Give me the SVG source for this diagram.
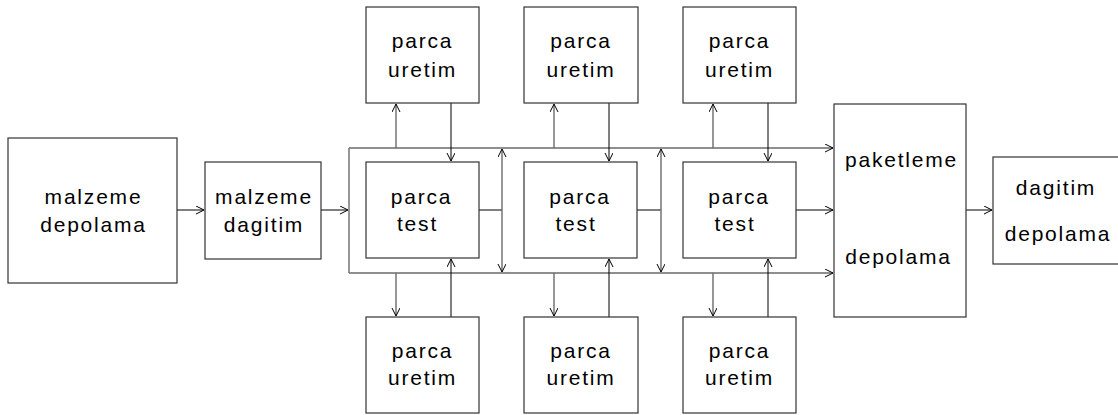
<svg xmlns="http://www.w3.org/2000/svg" width="1118" height="415" viewBox="0 0 1118 415">
  <style>
    .box { fill: #fff; stroke: #333; stroke-width: 1.2; }
    .lbl { font-family: "Liberation Sans", Arial, sans-serif; font-size: 21px; letter-spacing: 1.8px; fill: #000; text-anchor: middle; }
    .lnk { fill: none; stroke: #000; stroke-width: 1; }
    .bus { fill: none; stroke: #6a6a6a; stroke-width: 1.4; }
  </style>
  <defs>
    <marker id="ah" markerUnits="userSpaceOnUse" markerWidth="10" markerHeight="10" refX="8" refY="4" orient="auto-start-reverse">
      <path d="M0,0 L8,4 L0,8" fill="none" stroke="#000" stroke-width="1"/>
    </marker>
  </defs>
  <rect width="1118" height="415" fill="#fff"/>

  <!-- connectors -->
  <g id="connectors">
    <line class="lnk" x1="177" y1="210" x2="204" y2="210" marker-end="url(#ah)"/>
    <line class="lnk" x1="321" y1="210" x2="348" y2="210" marker-end="url(#ah)"/>
    <!-- distribution frame around the test stations -->
    <line class="bus" x1="349" y1="148" x2="833" y2="148" marker-end="url(#ah)"/>
    <line class="bus" x1="349" y1="148" x2="349" y2="273"/>
    <line class="bus" x1="349" y1="273" x2="833" y2="273" marker-end="url(#ah)"/>
    <!-- test outputs -->
    <line class="lnk" x1="479" y1="210" x2="502" y2="210"/>
    <line class="lnk" x1="637" y1="210" x2="661" y2="210"/>
    <line class="lnk" x1="796" y1="210" x2="833" y2="210" marker-end="url(#ah)"/>
    <!-- vertical transfer links -->
    <line class="bus" x1="502" y1="149" x2="502" y2="272" marker-start="url(#ah)" marker-end="url(#ah)"/>
    <line class="bus" x1="661" y1="149" x2="661" y2="272" marker-start="url(#ah)" marker-end="url(#ah)"/>
    <!-- column 1 -->
    <line class="bus" x1="396" y1="148" x2="396" y2="104" marker-end="url(#ah)"/>
    <line class="lnk" x1="451" y1="103" x2="451" y2="161" marker-end="url(#ah)"/>
    <line class="bus" x1="396" y1="273" x2="396" y2="316" marker-end="url(#ah)"/>
    <line class="lnk" x1="451" y1="317" x2="451" y2="259" marker-end="url(#ah)"/>
    <!-- column 2 -->
    <line class="bus" x1="554" y1="148" x2="554" y2="104" marker-end="url(#ah)"/>
    <line class="lnk" x1="609" y1="103" x2="609" y2="161" marker-end="url(#ah)"/>
    <line class="bus" x1="554" y1="273" x2="554" y2="316" marker-end="url(#ah)"/>
    <line class="lnk" x1="609" y1="317" x2="609" y2="259" marker-end="url(#ah)"/>
    <!-- column 3 -->
    <line class="bus" x1="713" y1="148" x2="713" y2="104" marker-end="url(#ah)"/>
    <line class="lnk" x1="768" y1="103" x2="768" y2="161" marker-end="url(#ah)"/>
    <line class="bus" x1="713" y1="273" x2="713" y2="316" marker-end="url(#ah)"/>
    <line class="lnk" x1="768" y1="317" x2="768" y2="259" marker-end="url(#ah)"/>
    <!-- packaging to dispatch -->
    <line class="lnk" x1="966" y1="210" x2="992" y2="210" marker-end="url(#ah)"/>
  </g>

  <g id="malzeme-depolama">
    <rect class="box" x="8" y="138" width="169" height="145"/>
    <text class="lbl" x="93.5" y="204">malzeme</text>
    <text class="lbl" x="93.5" y="232">depolama</text>
  </g>
  <g id="malzeme-dagitim">
    <rect class="box" x="205" y="162" width="116" height="97"/>
    <text class="lbl" x="264" y="204">malzeme</text>
    <text class="lbl" x="264" y="232">dagitim</text>
  </g>

  <g id="parca-test-1">
    <rect class="box" x="366" y="162" width="113" height="96"/>
    <text class="lbl" x="421.5" y="204">parca</text>
    <text class="lbl" x="417.5" y="231">test</text>
  </g>
  <g id="parca-test-2">
    <rect class="box" x="524" y="162" width="113" height="96"/>
    <text class="lbl" x="580" y="204">parca</text>
    <text class="lbl" x="576" y="231">test</text>
  </g>
  <g id="parca-test-3">
    <rect class="box" x="683" y="162" width="113" height="96"/>
    <text class="lbl" x="739" y="204">parca</text>
    <text class="lbl" x="735" y="231">test</text>
  </g>

  <g id="parca-uretim-top-1">
    <rect class="box" x="366" y="7" width="113" height="96"/>
    <text class="lbl" x="422.5" y="48">parca</text>
    <text class="lbl" x="422.5" y="77">uretim</text>
  </g>
  <g id="parca-uretim-top-2">
    <rect class="box" x="524" y="7" width="114" height="96"/>
    <text class="lbl" x="581" y="48">parca</text>
    <text class="lbl" x="581" y="77">uretim</text>
  </g>
  <g id="parca-uretim-top-3">
    <rect class="box" x="683" y="7" width="113" height="96"/>
    <text class="lbl" x="739.5" y="48">parca</text>
    <text class="lbl" x="739.5" y="77">uretim</text>
  </g>

  <g id="parca-uretim-bottom-1">
    <rect class="box" x="366" y="317" width="113" height="96"/>
    <text class="lbl" x="422.5" y="358">parca</text>
    <text class="lbl" x="422.5" y="385">uretim</text>
  </g>
  <g id="parca-uretim-bottom-2">
    <rect class="box" x="524" y="317" width="114" height="96"/>
    <text class="lbl" x="581" y="358">parca</text>
    <text class="lbl" x="581" y="385">uretim</text>
  </g>
  <g id="parca-uretim-bottom-3">
    <rect class="box" x="683" y="317" width="113" height="96"/>
    <text class="lbl" x="739.5" y="358">parca</text>
    <text class="lbl" x="739.5" y="385">uretim</text>
  </g>

  <g id="paketleme-depolama">
    <rect class="box" x="834" y="104" width="132" height="213"/>
    <text class="lbl" x="901.5" y="167">paketleme</text>
    <text class="lbl" x="898.5" y="264">depolama</text>
  </g>

  <g id="dagitim-depolama">
    <rect class="box" x="993" y="157" width="135" height="107"/>
    <text class="lbl" x="1056" y="195">dagitim</text>
    <text class="lbl" x="1058" y="241">depolama</text>
  </g>
</svg>
